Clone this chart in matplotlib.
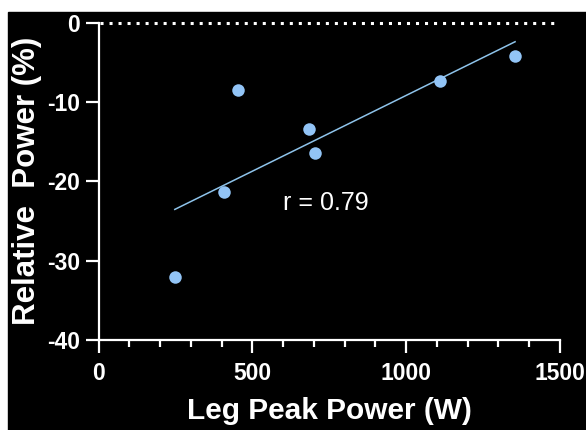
import numpy as np
import matplotlib
matplotlib.use("Agg")
from matplotlib import pyplot as plt
from matplotlib.patches import Rectangle
from matplotlib.ticker import MultipleLocator

# leg peak power (W) vs relative power change (%)
peak_power = [248, 408, 452, 683, 704, 1109, 1354]
rel_power = [-32.0, -21.4, -8.5, -13.4, -16.4, -7.4, -4.2]
r_text = "r = 0.79"

plt.rcParams['font.family'] = ['Liberation Sans', 'DejaVu Sans']
plt.rcParams['axes.unicode_minus'] = False

fig = plt.figure(figsize=(5.86, 4.3), dpi=100)
fig.patch.set_facecolor("white")
# black panel, thin white border at top and left
fig.add_artist(Rectangle((8 / 586, 0), 1, (430 - 12) / 430,
                         transform=fig.transFigure, color="black", zorder=-10))

ax = fig.add_axes([98.5 / 586, 90 / 430, 461.5 / 586, 317.5 / 430])
ax.set_facecolor("black")

x = np.array(peak_power)
y = np.array(rel_power)
slope, icpt = np.polyfit(x, y, 1)
xl = np.array([x.min(), x.max()])
ax.plot(xl, slope * xl + icpt, color="#8ec3ea", lw=1.1, zorder=2)
ax.plot(x, y, "o", color="#92c4f6", ms=9, mec="none", zorder=3)

# dotted zero line
ax.plot([6, 1480], [0, 0], ls=(0, (1, 1.95)), color="white", lw=2.2,
        clip_on=False, zorder=1)

ax.text(600, -22.7, r_text, color="white", fontsize=18, va="center", ha="left")

ax.set_xlim(0, 1500)
ax.set_ylim(-40, 0)
ax.xaxis.set_major_locator(MultipleLocator(500))
ax.xaxis.set_minor_locator(MultipleLocator(100))
ax.yaxis.set_major_locator(MultipleLocator(10))

for s in ["top", "right"]:
    ax.spines[s].set_visible(False)
for s in ["left", "bottom"]:
    ax.spines[s].set_color("white")
    ax.spines[s].set_linewidth(1.6)

ax.tick_params(which="major", length=9.5, width=1.6, color="white",
               labelcolor="white", labelsize=16.5, pad=4)
ax.tick_params(axis="x", which="major", pad=6)
ax.tick_params(which="minor", length=5, width=1.6, color="white")
for lab in ax.get_xticklabels() + ax.get_yticklabels():
    lab.set_fontweight("bold")

ax.set_xlabel("Leg Peak Power (W)", color="white", fontsize=21.5,
              fontweight="bold", labelpad=9)
ax.set_ylabel("Relative  Power (%)", color="white", fontsize=22.5,
              fontweight="bold", labelpad=3)

plt.savefig("out.png", dpi=100)
